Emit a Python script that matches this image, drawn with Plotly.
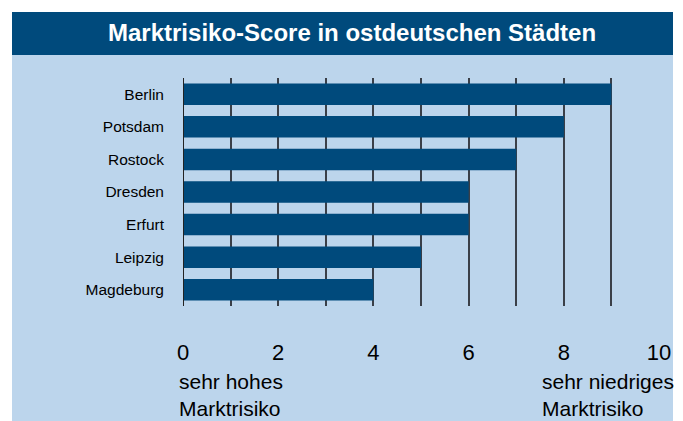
import plotly.graph_objects as go

cities = ["Berlin", "Potsdam", "Rostock", "Dresden", "Erfurt", "Leipzig", "Magdeburg"]
scores = [9, 8, 7, 6, 6, 5, 4]
tick_values = list(range(0, 11))
tick_labels = ["0", "", "2", "", "4", "", "6", "", "8", "", "10"]
title_text = "Marktrisiko-Score in ostdeutschen Städten"
left_note = "sehr hohes<br>Marktrisiko"
right_note = "sehr niedriges<br>Marktrisiko"

DARK = "#004a7c"
LIGHT = "#bcd5ec"
FONT = "Liberation Sans, Arial, sans-serif"

OFF = 8  # page body margin
W, H = 683 - OFF, 421 - OFF
L, R, T, B = 183 - OFF, 23, 78 - OFF, 115
pw, ph = W - L - R, H - T - B


def px(x):
    return (x - OFF - L) / pw


def py(y):
    return (H - B - (y - OFF)) / ph


fig = go.Figure(go.Bar(
    y=cities, x=scores, orientation="h",
    marker=dict(color=DARK, line=dict(width=0)),
    width=0.66,
))

fig.update_layout(
    width=W, height=H,
    margin=dict(l=L, r=R, t=T, b=B),
    paper_bgcolor="white",
    plot_bgcolor="rgba(0,0,0,0)",
    showlegend=False,
    font=dict(family=FONT, color="black"),
    xaxis=dict(
        range=[0, 10.02], tickvals=tick_values, ticktext=tick_labels,
        showgrid=True, gridcolor="#3a3f48", gridwidth=1.5,
        zeroline=False, showline=False, ticks="",
        tickfont=dict(size=22, family=FONT, color="black"),
        ticklabelstandoff=31,
        fixedrange=True,
    ),
    yaxis=dict(
        autorange="reversed", showgrid=False, zeroline=False,
        showline=False, ticks="",
        tickfont=dict(size=15.5, family=FONT, color="black"),
        ticklabelstandoff=18,
        fixedrange=True,
    ),
    shapes=[
        dict(type="rect", xref="paper", yref="paper",
             x0=px(12), x1=px(673), y0=py(425), y1=py(55),
             fillcolor=LIGHT, line=dict(width=0), layer="below"),
        dict(type="rect", xref="paper", yref="paper",
             x0=px(12), x1=px(673), y0=py(55), y1=py(12),
             fillcolor=DARK, line=dict(width=0), layer="below"),
        dict(type="line", xref="x", yref="paper", x0=0, x1=0, y0=0, y1=1,
             line=dict(color="#222", width=2)),
    ],
    annotations=[
        dict(text="<b>" + title_text + "</b>", xref="paper", yref="paper",
             x=px(352), y=py(32), xanchor="center", yanchor="middle",
             showarrow=False, font=dict(size=24, color="white", family=FONT)),
        dict(text=left_note, xref="x", yref="paper", x=0, y=py(368),
             xanchor="left", yanchor="top", xshift=-6, align="left",
             showarrow=False, font=dict(size=21, family=FONT, color="black")),
        dict(text=right_note, xref="x", yref="paper", x=7.5, y=py(368),
             xanchor="left", yanchor="top", align="left",
             showarrow=False, font=dict(size=21, family=FONT, color="black")),
    ],
)

fig.write_html("out.html")
